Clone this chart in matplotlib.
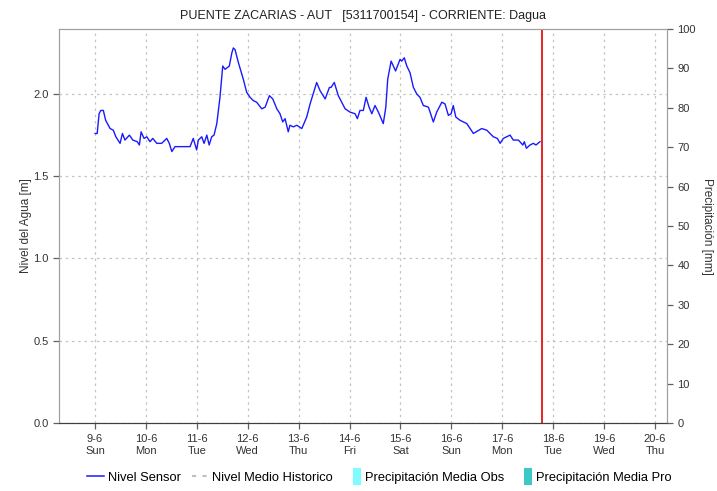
"""
Nivel del agua - estacion PUENTE ZACARIAS (AUT), corriente Dagua.
Serie del sensor de nivel con eje secundario de precipitacion.
"""

import pandas as pd
import matplotlib
matplotlib.use("Agg")
import matplotlib.pyplot as plt
import matplotlib.dates as mdates
from matplotlib.lines import Line2D
from matplotlib.patches import Patch, Rectangle
from matplotlib.legend_handler import HandlerPatch

plt.rcParams["font.family"] = ["Liberation Sans", "DejaVu Sans"]

# -----------------------------------------------------------------------------
# DATA
# -----------------------------------------------------------------------------
START = "2024-06-09 00:00"
NOW_HOURS = 210.6  # linea roja (hora actual)

# hours since 9-6 00:00
sensor_hours = [
    0, 1, 1.9, 2.7, 3.9, 5.0, 7.1, 8.6, 9.8, 11.8, 12.9, 14.1, 16.2, 17.8,
    19.9, 20.9, 21.7, 23.1, 24.4, 25.9, 27.2, 29.1, 31.4, 33.8, 35.0, 36.2,
    37.7, 40.1, 44.8, 46.3, 47.9, 48.7, 50.3, 51.4, 52.7, 53.8, 55.0, 56.1,
    57.4, 58.9, 60.2, 61.3, 63.3, 64.5, 65.2, 66.0, 67.6, 69.9, 71.5, 73.1,
    74.6, 76.2, 78.6, 80.2, 82.2, 83.8, 85.7, 87.2, 88.5, 89.6, 91.1, 91.9,
    93.5, 95.1, 97.5, 99.8, 101.4, 104.5, 106.1, 108.5, 110.5, 111.3, 112.8,
    114.7, 117.9, 120.2, 122.6, 123.7, 124.9, 126.5, 127.8, 129.2, 130.5,
    132.0, 133.6, 135.9, 137.1, 138.0, 139.6, 141.7, 143.8, 144.6, 145.8,
    147.0, 148.5, 150.1, 151.7, 153.2, 154.8, 157.2, 159.5, 161.1, 163.5,
    165.0, 166.6, 167.9, 168.9, 170.1, 172.1, 175.3, 178.4, 182.3, 184.7,
    187.8, 189.7, 191.0, 192.5, 195.7, 197.2, 199.6, 201.7, 202.4, 203.4,
    205.1, 206.7, 207.9, 209.8,
]
sensor_level = [
    1.76, 1.76, 1.88, 1.90, 1.90, 1.84, 1.79, 1.78, 1.74, 1.70, 1.76, 1.72,
    1.75, 1.72, 1.71, 1.69, 1.77, 1.73, 1.74, 1.71, 1.73, 1.70, 1.70, 1.73,
    1.70, 1.65, 1.68, 1.68, 1.68, 1.73, 1.66, 1.72, 1.74, 1.70, 1.75, 1.69,
    1.74, 1.75, 1.82, 1.98, 2.17, 2.15, 2.17, 2.25, 2.28, 2.27, 2.19, 2.09,
    2.01, 1.98, 1.96, 1.95, 1.91, 1.92, 1.99, 1.97, 1.91, 1.88, 1.83, 1.85,
    1.77, 1.81, 1.80, 1.81, 1.79, 1.86, 1.94, 2.07, 2.02, 1.97, 2.04, 2.04,
    2.07, 1.99, 1.91, 1.89, 1.88, 1.85, 1.90, 1.90, 1.98, 1.92, 1.88, 1.93,
    1.89, 1.82, 1.92, 2.09, 2.20, 2.14, 2.21, 2.20, 2.22, 2.17, 2.13, 2.04,
    2.00, 1.98, 1.93, 1.92, 1.83, 1.89, 1.95, 1.94, 1.87, 1.88, 1.93, 1.86,
    1.84, 1.82, 1.76, 1.79, 1.78, 1.74, 1.73, 1.70, 1.73, 1.75, 1.72, 1.72,
    1.69, 1.71, 1.67, 1.69, 1.70, 1.69, 1.71,
]

XLIM_HOURS = (-17.0, 269.7)
LEVEL_LIM = (0, 2.395)
LEVEL_TICKS = [0.0, 0.5, 1.0, 1.5, 2.0]
PRECIP_LIM = (0, 100)
PRECIP_TICKS = list(range(0, 101, 10))

TITLE = "PUENTE ZACARIAS - AUT   [5311700154] - CORRIENTE: Dagua"
LEGEND_LABELS = ["Nivel Sensor", "Nivel Medio Historico",
                 "Precipitación Media Obs", "Precipitación Media Pro"]


# -----------------------------------------------------------------------------
# CHART
# -----------------------------------------------------------------------------
class NarrowPatch(HandlerPatch):
    """Small vertical swatch like the original legend."""

    def create_artists(self, legend, orig_handle, xdescent, ydescent,
                       width, height, fontsize, trans):
        w = 6
        h = height + 6
        rect = Rectangle((width - w - xdescent, -ydescent - 3), w, h,
                         facecolor=orig_handle.get_facecolor(),
                         edgecolor="none", transform=trans)
        return [rect]


def day_label(x, pos=None):
    d = mdates.num2date(x)
    return f"{d.day}-{d.month}\n{d:%a}"


def main():
    t0 = pd.Timestamp(START)
    times = t0 + pd.to_timedelta(sensor_hours, unit="h")
    now = t0 + pd.Timedelta(hours=NOW_HOURS)
    xlim = [t0 + pd.Timedelta(hours=h) for h in XLIM_HOURS]

    fig = plt.figure(figsize=(7.17, 4.91), dpi=100)
    ax = fig.add_axes([0.0823, 0.1385, 0.8480, 0.8024])
    ax2 = ax.twinx()

    grid_kw = dict(color="#c4c4c4", linestyle=(0, (2, 3)), linewidth=0.9)
    ax.grid(True, **grid_kw)
    ax.set_axisbelow(True)

    ax.plot(times, sensor_level, color="#1a1aff", linewidth=1.0)
    ax.axvline(now, color="#e00000", linewidth=1.2)

    ax.set_xlim(xlim)
    ax.set_ylim(LEVEL_LIM)
    ax.set_yticks(LEVEL_TICKS)
    ax.yaxis.set_major_formatter(plt.FormatStrFormatter("%.1f"))
    ax.xaxis.set_major_locator(mdates.DayLocator())
    ax.xaxis.set_major_formatter(plt.FuncFormatter(day_label))

    ax2.set_ylim(PRECIP_LIM)
    ax2.set_yticks(PRECIP_TICKS)

    for a in (ax, ax2):
        for s in ("left", "top", "right"):
            a.spines[s].set_color("#a0a0a0")
        a.spines["bottom"].set_color("#404040")
        a.spines["bottom"].set_linestyle((0, (1, 1)))
        a.tick_params(colors="#606060", labelcolor="#333333",
                      labelsize=8, length=4, width=0.9)
    ax.tick_params(axis="x", length=4, pad=4)

    ax.set_ylabel("Nivel del Agua [m]", fontsize=8.5, color="#333333",
                  labelpad=1)
    ax2.set_ylabel("Precipitación [mm]", fontsize=8.5, color="#333333",
                   rotation=270, labelpad=12)
    ax.set_title(TITLE, fontsize=9, color="#222222", pad=7)

    handles = [
        Line2D([], [], color="#1a1aff", linewidth=1.1),
        Line2D([], [], color="#c0c0c0", linestyle=(0, (2, 3)), linewidth=1.5),
        Patch(facecolor="#7ffcff"),
        Patch(facecolor="#3cc8c8"),
    ]
    fig.legend(handles, LEGEND_LABELS, loc="center", ncol=4,
               bbox_to_anchor=(0.529, 0.027), frameon=False, fontsize=9.3,
               handlelength=1.3, handletextpad=0.3, columnspacing=0.85,
               handler_map={Patch: NarrowPatch()})

    fig.savefig("out.png", dpi=100)
    plt.close(fig)


if __name__ == "__main__":
    main()
